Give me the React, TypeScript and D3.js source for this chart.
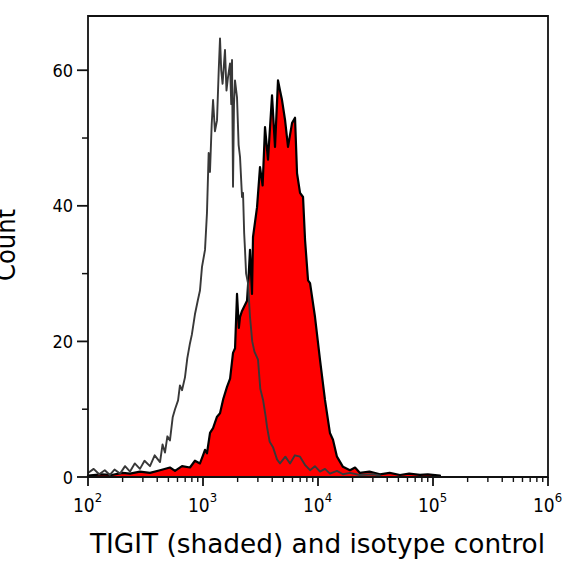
import * as d3 from "d3";

// fluorescence intensity bins and event counts
const isotypeX = [
  100, 112, 125, 140, 155, 170, 190, 210, 232, 255, 283, 310, 346, 380, 423, 445, 467, 490, 516, 545,
  571, 607, 630, 657, 697, 730, 770, 800, 851, 900, 941, 980, 1041, 1083, 1120, 1150, 1190, 1223, 1270,
  1324, 1370, 1406, 1440, 1480, 1553, 1600, 1650, 1718, 1760, 1788, 1824, 1860, 1898, 1976, 2040, 2099,
  2184, 2229, 2280, 2319, 2370, 2462, 2563, 2680, 2800, 3008, 3150, 3326, 3500, 3603, 3800, 4061, 4400,
  4674, 5200, 5711, 6300, 6978, 7700, 8527, 9400, 10405, 11500, 12697, 14616, 16486, 19000, 23000,
  30000, 35000,
];
const isotypeCount = [
  0.6, 1.2, 0.4, 1.0, 0.3, 1.1, 0.5, 1.6, 0.8, 2.0, 1.2, 2.4, 1.6, 3.2, 2.2, 4.8, 3.6, 6.0, 5.4, 8.8,
  10.0, 11.3, 13.5, 12.8, 14.7, 17.5, 19.7, 21.0, 24, 26, 27.5, 31.0, 33.5, 39, 47.8, 45, 52, 55.6, 51,
  52.6, 60, 64.7, 60, 58, 63, 57, 59, 61, 55, 61.5, 42.8, 55, 58.5, 56, 49, 47.2,
  41.3, 41.9, 36, 33.5, 30, 28.6, 23.6, 20, 18.5, 17.3, 13, 11.4, 9, 7.4, 5.2, 4.4, 2.6,
  2.0, 3.0, 2.0, 3.2, 3.0, 1.8, 1.0, 1.6, 0.8, 1.2, 0.5, 0.9, 0.4, 0.6, 0.3,
  0.4, 0.2,
];

const tigitX = [
  100, 130, 160, 200, 232, 283, 346, 423, 516, 571, 657, 770, 851, 941, 1000, 1041, 1083, 1151, 1223,
  1324, 1406, 1500, 1617, 1720, 1824, 1900, 1976, 2050, 2099, 2184, 2414, 2500, 2563, 2667, 2722, 2951,
  3131, 3300, 3461, 3675, 3983, 4227, 4490, 4674, 4865, 5166, 5486, 5944, 6313, 6571, 6978, 7411, 7714,
  8192, 8527, 9419, 10405, 11494, 12697, 13500, 14616, 16486, 18963, 21000, 23161, 28000, 34569, 42000,
  51601, 62000, 77000, 90000, 115000,
];
const tigitCount = [
  0.2, 0.4, 0.3, 0.6, 0.5, 0.8, 0.6, 1.0, 1.4, 0.9, 1.6, 1.4, 2.4, 2.0, 3.2, 4.0, 3.5, 6.5, 7.2,
  8.9, 9.4, 11.5, 13.3, 14.5, 18.3, 19, 27, 22, 23.6, 24.5, 26, 30, 33.5, 27, 35.4, 39.8,
  45.7, 43, 51.6, 46.8, 56.3, 48.7, 58.5, 57, 55.6, 52.7, 48.7, 52.2, 53, 44.8, 41.9, 41.3, 35,
  29, 28.6, 23.6, 17.3, 11.4, 6.5, 5.5, 3.0, 1.5, 1.0, 1.4, 0.6, 0.8, 0.4, 0.6,
  0.3, 0.5, 0.3, 0.4, 0.2,
];

const yTicks = [0, 20, 40, 60];
const yMinor = [10, 30, 50];
const xDecades = [2, 3, 4, 5, 6];

const W = 576;
const H = 566;
const m = { left: 88, right: 28, top: 16, bottom: 89 };

export default function App() {
  const x = d3.scaleLog().domain([1e2, 1e6]).range([m.left, W - m.right]);
  const y = d3.scaleLinear().domain([0, 68]).range([H - m.bottom, m.top]);

  const tigit = tigitX.map((v, i) => [v, tigitCount[i]] as [number, number]);
  const iso = isotypeX.map((v, i) => [v, isotypeCount[i]] as [number, number]);

  const area = d3
    .area<[number, number]>()
    .x((d) => x(d[0]))
    .y0(y(0))
    .y1((d) => y(d[1]));
  const line = d3
    .line<[number, number]>()
    .x((d) => x(d[0]))
    .y((d) => y(d[1]));

  const minorX: number[] = [];
  xDecades.slice(0, -1).forEach((e) => {
    for (let k = 2; k <= 9; k++) minorX.push(k * Math.pow(10, e));
  });

  const x0 = m.left;
  const x1 = W - m.right;
  const yb = H - m.bottom;
  const font = "'DejaVu Sans Condensed', 'DejaVu Sans', sans-serif";

  return (
    <svg
      width={W}
      height={H}
      style={{ position: "absolute", left: 0, top: 0, background: "#fff" }}
      fontFamily={font}
    >
      {/* TIGIT filled histogram */}
      <path d={area(tigit) ?? ""} fill="#ff0000" stroke="#000" strokeWidth={2.2} strokeLinejoin="round" />
      {/* isotype control line */}
      <path d={line(iso) ?? ""} fill="none" stroke="#383838" strokeWidth={1.9} strokeLinejoin="round" />

      {/* frame */}
      <path
        d={`M${x0},${yb}V${m.top}H${x1}V${yb}H${x0}`}
        fill="none"
        stroke="#111"
        strokeWidth={1.8}
      />

      {/* y axis ticks */}
      {yTicks.map((t) => (
        <g key={"y" + t}>
          <line x1={x0 - 11} x2={x0} y1={y(t)} y2={y(t)} stroke="#111" strokeWidth={1.8} />
          <text x={x0 - 15} y={y(t) + 6.5} textAnchor="end" fontSize={18}>
            {t}
          </text>
        </g>
      ))}
      {yMinor.map((t) => (
        <line key={"ym" + t} x1={x0 - 6} x2={x0} y1={y(t)} y2={y(t)} stroke="#111" strokeWidth={1.5} />
      ))}

      {/* x axis ticks */}
      {xDecades.map((e) => {
        const px = x(Math.pow(10, e));
        return (
          <g key={"x" + e}>
            <line x1={px} x2={px} y1={yb} y2={yb + 9} stroke="#111" strokeWidth={1.8} />
            <text x={px - 15} y={yb + 35} fontSize={19}>
              10
              <tspan dy={-10} fontSize={13}>
                {e}
              </tspan>
            </text>
          </g>
        );
      })}
      {minorX.map((v) => (
        <line key={"xm" + v} x1={x(v)} x2={x(v)} y1={yb} y2={yb + 5} stroke="#111" strokeWidth={1.4} />
      ))}

      {/* axis titles */}
      <text x={x0 + 2} y={553} fontSize={27} textLength={455} lengthAdjust="spacingAndGlyphs">
        TIGIT (shaded) and isotype control
      </text>
      <text transform={`translate(15,245) rotate(-90)`} textAnchor="middle" fontSize={27}>
        Count
      </text>
    </svg>
  );
}
